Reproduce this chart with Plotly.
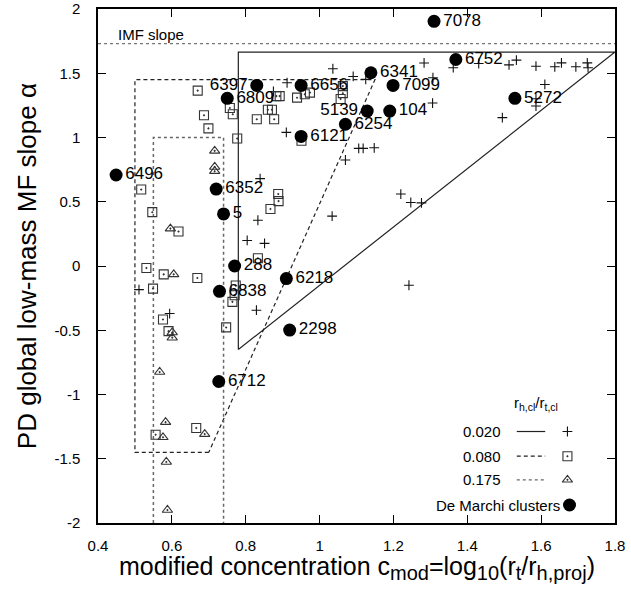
import plotly.graph_objects as go

# ---------------- data ----------------
# r_h,cl/r_t,cl = 0.020 simulations (+)
plus_x = [1.036, 0.912, 0.875, 0.910, 0.839, 1.070, 1.091, 1.125, 1.106, 1.118, 1.148,
          1.283, 1.307, 1.306, 1.362, 1.431, 1.513, 1.533, 1.586, 1.637, 1.655, 1.694,
          1.725, 1.727, 1.610, 1.586, 1.586, 1.495, 1.220, 1.247, 1.276, 1.034, 1.242,
          0.833, 0.804, 0.851, 0.829, 0.511, 0.594]
plus_y = [1.535, 1.426, 1.358, 1.040, 0.680, 0.825, 1.475, 1.452, 0.915, 0.915, 0.920,
          1.580, 1.465, 1.268, 1.543, 1.576, 1.565, 1.602, 1.555, 1.550, 1.581, 1.550,
          1.581, 1.543, 1.413, 1.302, 1.245, 1.155, 0.560, 0.494, 0.491, 0.388, -0.150,
          0.356, 0.199, 0.176, -0.344, -0.184, -0.370]

# r_h,cl/r_t,cl = 0.080 simulations (squares)
sq_x = [0.670, 0.757, 0.765, 0.687, 0.699, 0.777, 0.830, 0.877, 0.860, 0.871, 0.883,
        0.892, 0.939, 0.960, 0.974, 0.951, 1.057, 1.063, 1.063, 0.517, 0.888, 0.889,
        0.867, 0.547, 0.618, 0.531, 0.578, 0.669, 0.549, 0.833, 0.773, 0.770, 0.764,
        0.576, 0.591, 0.747, 0.556, 0.666]
sq_y = [1.365, 1.230, 1.181, 1.173, 1.071, 0.992, 1.142, 1.142, 1.216, 1.216, 1.322,
        1.322, 1.310, 1.336, 1.349, 0.975, 1.300, 1.345, 1.400, 0.595, 0.560, 0.505,
        0.444, 0.419, 0.268, -0.016, -0.065, -0.093, -0.176, 0.060, -0.152, -0.228, -0.279,
        -0.416, -0.507, -0.478, -1.313, -1.261]

# r_h,cl/r_t,cl = 0.175 simulations (triangles)
tri_x = [0.716, 0.716, 0.716, 0.596, 0.605, 0.601, 0.601, 0.567, 0.583, 0.576, 0.689,
         0.585, 0.588]
tri_y = [0.896, 0.771, 0.738, 0.291, -0.065, -0.517, -0.558, -0.825, -1.215, -1.333,
         -1.308, -1.525, -1.899]

# De Marchi clusters
dm_names = ["6397", "6809", "6656", "6121", "6496", "6352", "5139", "6254", "104", "6341",
            "7099", "6752", "5272", "7078", "5", "288", "6838", "6218", "2298", "6712"]
dm_x = [0.830, 0.750, 0.950, 0.950, 0.449, 0.720, 1.129, 1.070, 1.190, 1.139,
        1.199, 1.369, 1.529, 1.310, 0.740, 0.770, 0.729, 0.910, 0.919, 0.727]
dm_y = [1.405, 1.305, 1.405, 1.008, 0.708, 0.599, 1.206, 1.103, 1.206, 1.504,
        1.405, 1.607, 1.305, 1.904, 0.405, 0.000, -0.197, -0.098, -0.499, -0.899]
dm_pos = ["middle left", "middle right", "middle right", "middle right", "middle right",
          "middle right", "middle left", "middle right", "middle right", "middle right",
          "middle right", "middle right", "middle right", "middle right", "middle right",
          "middle right", "middle right", "middle right", "middle right", "middle right"]

# boundary regions
solid_x = [0.78, 0.78, 1.80, 0.78]
solid_y = [-0.65, 1.665, 1.665, -0.65]
dashed_x = [0.70, 0.50, 0.50, 1.15, 0.70]
dashed_y = [-1.45, -1.45, 1.45, 1.45, -1.45]
dotted_x = [0.55, 0.55, 0.74, 0.74]
dotted_y = [-2.0, 1.0, 1.0, -2.0]
imf_x = [0.4, 1.8]
imf_y = [1.73, 1.73]

x_ticks = [0.4, 0.6, 0.8, 1.0, 1.2, 1.4, 1.6, 1.8]
x_ticklabels = ["0.4", "0.6", "0.8", "1", "1.2", "1.4", "1.6", "1.8"]
y_ticks = [-2, -1.5, -1, -0.5, 0, 0.5, 1, 1.5, 2]
y_ticklabels = ["-2", "-1.5", "-1", "-0.5", "0", "0.5", "1", "1.5", "2"]

legend_labels = ["0.020", "0.080", "0.175"]

# ---------------- figure ----------------
FONT = "Liberation Sans, Arial, Helvetica, sans-serif"
fig = go.Figure()

fig.add_trace(go.Scatter(x=imf_x, y=imf_y, mode="lines",
                         line=dict(color="#777", width=1.2, dash="dot"), hoverinfo="skip"))
fig.add_trace(go.Scatter(x=solid_x, y=solid_y, mode="lines",
                         line=dict(color="#222", width=1.2)))
fig.add_trace(go.Scatter(x=dashed_x, y=dashed_y, mode="lines",
                         line=dict(color="#222", width=1.2, dash="4px,3px")))
fig.add_trace(go.Scatter(x=dotted_x, y=dotted_y, mode="lines",
                         line=dict(color="#666", width=1.5, dash="dot")))

PLUS = dict(symbol="cross-thin-open", size=7, color="#111", line=dict(color="#111", width=1.1))
SQ = dict(symbol="square-open-dot", size=9, color="#333", line=dict(color="#333", width=1.1))
TRI = dict(symbol="triangle-up-open-dot", size=9, color="#333", line=dict(color="#333", width=1.1))
DM = dict(symbol="circle", size=13, color="black")

fig.add_trace(go.Scatter(x=plus_x, y=plus_y, mode="markers", marker=PLUS))
fig.add_trace(go.Scatter(x=sq_x, y=sq_y, mode="markers", marker=SQ))
fig.add_trace(go.Scatter(x=tri_x, y=tri_y, mode="markers", marker=TRI))
fig.add_trace(go.Scatter(x=dm_x, y=dm_y, mode="markers+text", text=dm_names,
                         textposition=dm_pos,
                         textfont=dict(family=FONT, size=17, color="black"),
                         marker=DM))

# IMF slope text
fig.add_annotation(x=0.45, y=1.80, xref="x", yref="y", text="IMF slope", showarrow=False,
                   xanchor="left", yanchor="middle", font=dict(family=FONT, size=15, color="black"))

# ---- custom legend (paper coords = plot area) ----
fig.add_annotation(x=0.848, y=0.233, xref="paper", yref="paper",
                   text="r<sub>h,cl</sub>/r<sub>t,cl</sub>", showarrow=False,
                   xanchor="center", yanchor="middle", font=dict(family=FONT, size=15, color="black"))
rows = [0.178, 0.130, 0.084]
dashes = ["solid", "4px,3px", "dot"]
lcolors = ["#222", "#222", "#666"]
for lab, ry, d, c in zip(legend_labels, rows, dashes, lcolors):
    fig.add_annotation(x=0.784, y=ry, xref="paper", yref="paper", text=lab, showarrow=False,
                       xanchor="right", yanchor="middle", font=dict(family=FONT, size=15, color="black"))
    fig.add_shape(type="line", xref="paper", yref="paper", x0=0.810, x1=0.865, y0=ry, y1=ry,
                  line=dict(color=c, width=1.2, dash=d))
fig.add_annotation(x=0.898, y=0.035, xref="paper", yref="paper", text="De Marchi clusters",
                   showarrow=False, xanchor="right", yanchor="middle",
                   font=dict(family=FONT, size=15, color="black"))

# legend markers on an overlay 0..1 axis
fig.add_trace(go.Scatter(x=[0.908], y=[0.178], xaxis="x2", yaxis="y2", mode="markers", marker=PLUS))
fig.add_trace(go.Scatter(x=[0.908], y=[0.130], xaxis="x2", yaxis="y2", mode="markers", marker=SQ))
fig.add_trace(go.Scatter(x=[0.908], y=[0.084], xaxis="x2", yaxis="y2", mode="markers", marker=TRI))
fig.add_trace(go.Scatter(x=[0.912], y=[0.035], xaxis="x2", yaxis="y2", mode="markers", marker=DM))

# axis titles
SUB = '<sub><span style="font-size:20px">%s</span></sub>'
xtitle = ("modified concentration c" + SUB % "mod" + "=log" + SUB % "10" +
          "(r" + SUB % "t" + "/r" + SUB % "h,proj" + ")")
fig.add_annotation(x=0.5, y=-0.052, xref="paper", yref="paper",
                   text=xtitle, showarrow=False, xanchor="center", yanchor="top",
                   font=dict(family=FONT, size=25, color="black"))
fig.add_annotation(x=-0.137, y=0.5, xref="paper", yref="paper",
                   text="PD global low-mass MF slope α", textangle=-90,
                   showarrow=False, xanchor="center", yanchor="middle",
                   font=dict(family=FONT, size=26, color="black"))

axis_common = dict(showline=True, linecolor="black", linewidth=1.5, mirror="ticks",
                   ticks="inside", ticklen=8, tickwidth=1.2, tickcolor="black",
                   showgrid=False, zeroline=False,
                   tickfont=dict(family=FONT, size=15, color="black"))

fig.update_layout(
    template="none",
    width=631, height=594,
    margin=dict(l=98, r=16, t=9, b=71),
    paper_bgcolor="white", plot_bgcolor="white",
    font=dict(family=FONT, color="black"),
    showlegend=False,
    hovermode=False,
    xaxis=dict(range=[0.4, 1.8], tickvals=x_ticks, ticktext=x_ticklabels,
               ticklabelstandoff=8, **axis_common),
    yaxis=dict(range=[-2, 2], tickvals=y_ticks, ticktext=y_ticklabels,
               ticklabelstandoff=13, **axis_common),
    xaxis2=dict(range=[0, 1], overlaying="x", visible=False),
    yaxis2=dict(range=[0, 1], overlaying="y", visible=False),
)

fig.write_html("out.html", config={"displayModeBar": False},
               post_script="document.body.style.margin='0';")
